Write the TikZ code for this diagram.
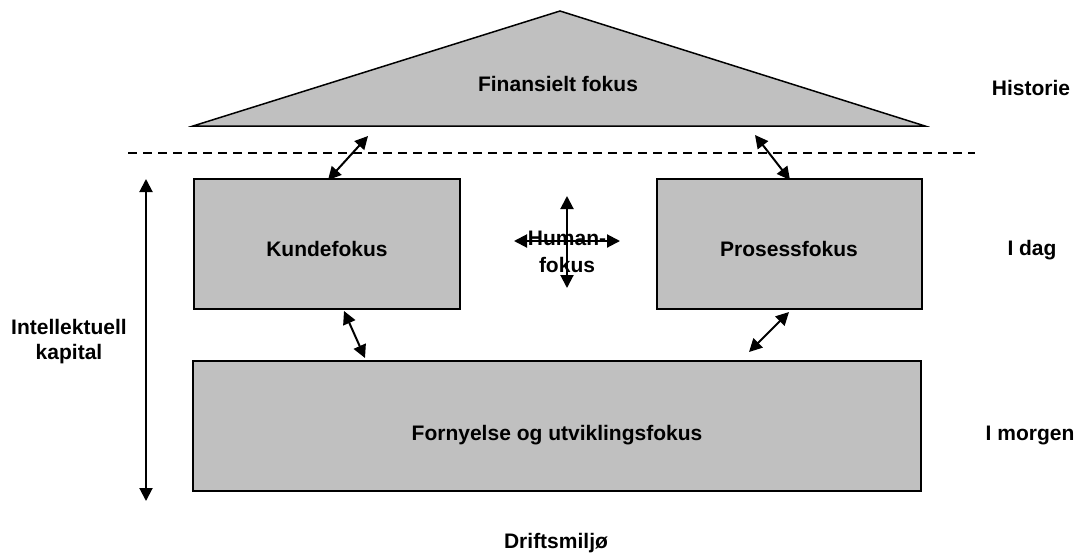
\documentclass[tikz,border=0pt]{standalone}
\usepackage{fontspec}
\setmainfont{Liberation Sans}
\usetikzlibrary{arrows.meta}
\definecolor{boxgray}{HTML}{C0C0C0}
\begin{document}
\begin{tikzpicture}[x=1pt,y=-1pt,
  lbl/.style={font=\fontsize{21}{25}\selectfont\bfseries, inner sep=0pt, anchor=base},
  panel/.style={draw=black, line width=1.5pt, fill=boxgray},
  dbl/.style={{Triangle[length=13pt,width=13pt]}-{Triangle[length=13pt,width=13pt]}, line width=2pt}]
\useasboundingbox (0,0) rectangle (1078,552);

% roof: financial focus
\draw[panel] (193,126) -- (560,11) -- (925,126) -- cycle;
\node[lbl] (fin) at (558,91) {Finansielt fokus};

% today / tomorrow boxes
\draw[panel] (194,179) rectangle (460,309);
\node[lbl] (kunde) at (327,256) {Kundefokus};
\draw[panel] (657,179) rectangle (922,309);
\node[lbl] (prosess) at (789,256) {Prosessfokus};
\draw[panel] (193,361) rectangle (921,491);
\node[lbl] (forny) at (557,440) {Fornyelse og utviklingsfokus};

% dashed separator
\draw[line width=1.2pt, dash pattern=on 9pt off 6pt] (128,153) -- (975,153);

% side labels
\node[lbl] (hist) at (1031,95) {Historie};
\node[lbl] (idag) at (1032,255) {I dag};
\node[lbl] (imorgen) at (1030,440) {I morgen};
\node[lbl] (ik1) at (69,334) {Intellektuell};
\node[lbl] (ik2) at (69,359) {kapital};
\node[lbl] (drift) at (556,548) {Driftsmiljø};

% human focus with cross arrows
\node[lbl] (human1) at (567,245) {Human-};
\node[lbl] (human2) at (567,272) {fokus};
\coordinate (hl) at (514,241);
\coordinate (hr) at (620,241);
\coordinate (ht) at (567,196);
\coordinate (hb) at (567,288);
\draw[dbl] (hl) -- (hr);
\draw[dbl] (ht) -- (hb);

% vertical span arrow
\coordinate (vt) at (146,179);
\coordinate (vb) at (146,501);
\draw[dbl] (vt) -- (vb);

% links between the levels
\coordinate (a1) at (368,136);
\coordinate (a2) at (328,180);
\coordinate (b1) at (755,135);
\coordinate (b2) at (790,180);
\coordinate (c1) at (344,311);
\coordinate (c2) at (365,358);
\coordinate (d1) at (789,312);
\coordinate (d2) at (749,352);
\draw[dbl] (a1) -- (a2);
\draw[dbl] (b1) -- (b2);
\draw[dbl] (c1) -- (c2);
\draw[dbl] (d1) -- (d2);
\end{tikzpicture}
\end{document}
